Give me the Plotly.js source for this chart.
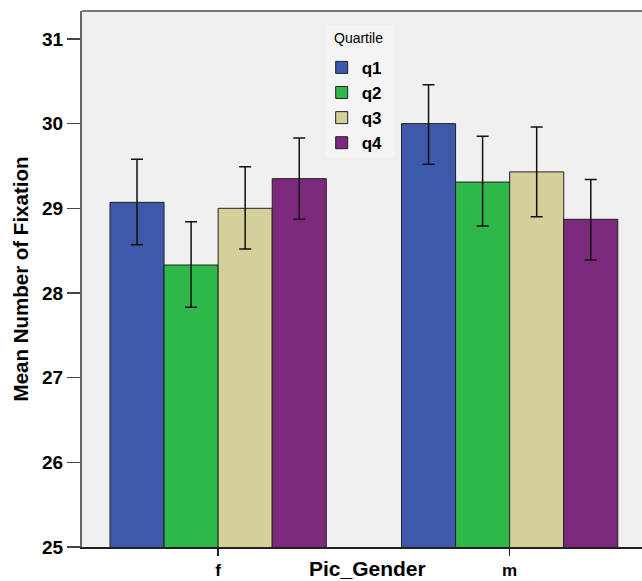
<!DOCTYPE html>
<html>
<head>
<meta charset="utf-8">
<script src="https://cdn.plot.ly/plotly-3.0.1.min.js"></script>
<style>html,body{margin:0;padding:0;background:#fff;}#chart{width:642px;height:581px;}</style>
</head>
<body>
<div id="chart"></div>
<script>
const categories = ['f', 'm'];
const quartiles = ['q1', 'q2', 'q3', 'q4'];
const q1Mean = [29.07, 30.00];
const q2Mean = [28.33, 29.31];
const q3Mean = [29.00, 29.43];
const q4Mean = [29.35, 28.87];
const q1Upper = [29.58, 30.46];
const q2Upper = [28.84, 29.85];
const q3Upper = [29.49, 29.96];
const q4Upper = [29.83, 29.34];
const q1Lower = [28.57, 29.52];
const q2Lower = [27.83, 28.79];
const q3Lower = [28.52, 28.90];
const q4Lower = [28.87, 28.39];
const yTicks = [25, 26, 27, 28, 29, 30, 31];

const means = [q1Mean, q2Mean, q3Mean, q4Mean];
const uppers = [q1Upper, q2Upper, q3Upper, q4Upper];
const lowers = [q1Lower, q2Lower, q3Lower, q4Lower];
const colors = ['#3e58aa', '#2fb84a', '#d4d09a', '#7c297c'];
const FONT = 'Liberation Sans, Arial, sans-serif';

const traces = quartiles.map((q, i) => ({
  type: 'bar',
  name: q,
  legendgroup: q,
  x: categories,
  y: means[i],
  marker: {color: colors[i], line: {color: '#222', width: 1}},
  error_y: {
    type: 'data', symmetric: false,
    array: uppers[i].map((u, k) => u - means[i][k]),
    arrayminus: lowers[i].map((l, k) => means[i][k] - l),
    color: '#111', thickness: 1.5, width: 6
  },
  hoverinfo: 'skip'
}));

const layout = {
  width: 642, height: 581,
  margin: {l: 82, r: 0, t: 11, b: 34, pad: 0},
  paper_bgcolor: '#ffffff',
  plot_bgcolor: '#f0f0f0',
  barmode: 'group',
  bargap: 0.258,
  bargroupgap: 0,
  font: {family: FONT, color: '#000'},
  xaxis: {
    type: 'category',
    range: [-0.467, 1.454],
    showgrid: false, zeroline: false,
    showline: true, linecolor: '#222', linewidth: 2,
    ticks: 'outside', ticklen: 7, tickwidth: 1.5, tickcolor: '#222',
    tickfont: {family: FONT, size: 17, color: '#000', weight: 'bold'}
  },
  yaxis: {
    range: [25, 31.33],
    tickvals: yTicks,
    showgrid: false, zeroline: false,
    showline: true, linecolor: '#666', linewidth: 2,
    ticks: 'outside', ticklen: 13, tickwidth: 1.5, tickcolor: '#444',
    tickfont: {family: FONT, size: 19, color: '#000', weight: 'bold'},
    title: {text: '<b>Mean Number of Fixation</b>', font: {family: FONT, size: 20.5, color: '#000'}, standoff: 8}
  },
  legend: {
    x: 0.428, y: 0.9275, xanchor: 'left', yanchor: 'top',
    bgcolor: 'rgba(0,0,0,0)',
    traceorder: 'grouped',
    tracegroupgap: 0,
    font: {family: FONT, size: 17, color: '#000', weight: 'bold'},
    itemwidth: 30
  },
  annotations: [{
    text: '<b>Pic_Gender</b>', xref: 'paper', yref: 'paper', x: 0.51, y: 0,
    xanchor: 'center', yanchor: 'middle', yshift: -21, showarrow: false,
    font: {family: FONT, size: 21, color: '#000'}
  }, {
    text: 'Quartile', xref: 'paper', yref: 'paper', x: 0.493, y: 0.9496,
    xanchor: 'center', yanchor: 'middle', showarrow: false,
    font: {family: FONT, size: 14, color: '#000'}
  }],
  shapes: [{
    type: 'rect', xref: 'paper', yref: 'paper', x0: 0.434, x1: 0.559, y0: 0.7276, y1: 0.9739,
    fillcolor: '#f4f4f4', line: {width: 0}, layer: 'below'
  }, {
    type: 'line', xref: 'paper', yref: 'paper', x0: 0, x1: 1, y0: 1, y1: 1,
    line: {color: '#777', width: 2}
  }]
};

Plotly.newPlot('chart', traces, layout, {displayModeBar: false, staticPlot: true});
</script>
</body>
</html>
